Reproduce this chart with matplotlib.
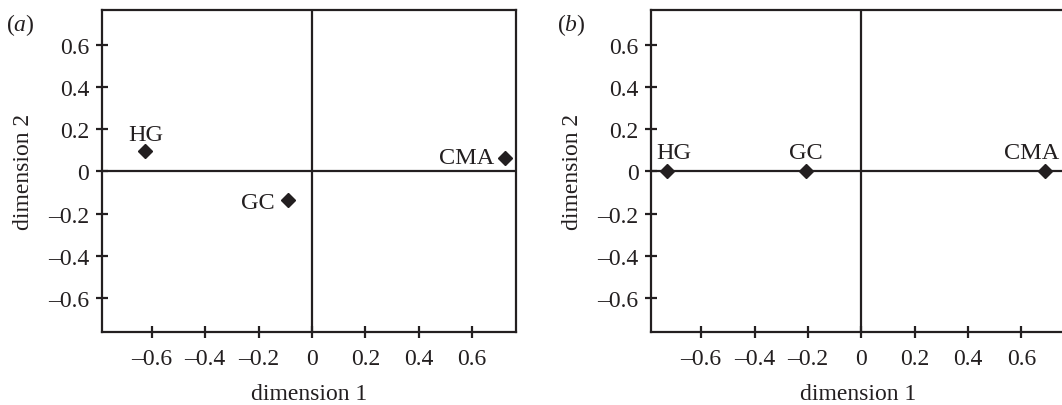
import matplotlib
matplotlib.use('Agg')
import matplotlib.pyplot as plt

plt.rcParams['font.family'] = ['Liberation Serif', 'DejaVu Serif']
plt.rcParams['mathtext.fontset'] = 'custom'
plt.rcParams['mathtext.it'] = 'Liberation Serif:italic'
plt.rcParams['mathtext.rm'] = 'Liberation Serif'

INK = '#231f20'

# correspondence analysis coordinates
groups = ['HG', 'GC', 'CMA']
dim1_a = [-0.624, -0.089, 0.724]
dim2_a = [0.097, -0.135, 0.064]
dim1_b = [-0.729, -0.207, 0.687]
dim2_b = [0.0, 0.0, 0.0]

tick_values = [-0.6, -0.4, -0.2, 0, 0.2, 0.4, 0.6]
tick_labels = ['\u20130.6', '\u20130.4', '\u20130.2', '0', '0.2', '0.4', '0.6']

# label offsets (points) for each panel: (dx, dy, ha, va)
offsets_a = [(0, 8, 'center', 'baseline'), (-10, 0, 'right', 'center_baseline'),
             (-8, 2, 'right', 'center_baseline')]
offsets_b = [(5, 9.5, 'center', 'baseline'), (0, 9.5, 'center', 'baseline'),
             (-9, 9.5, 'center', 'baseline')]


def draw_panel(ax, xs, ys, offsets):
    ax.axhline(0, color=INK, lw=1.6, zorder=1)
    ax.axvline(0, color=INK, lw=1.6, zorder=1)
    ax.plot(xs, ys, linestyle='none', marker='D', ms=7.5, color=INK, zorder=3)
    for name, x, y, (dx, dy, ha, va) in zip(groups, xs, ys, offsets):
        ax.annotate(name, (x, y), xytext=(dx, dy), textcoords='offset points',
                    ha=ha, va=va, fontsize=17.5, color=INK)
    ax.set_xlim(-0.788, 0.763)
    ax.set_ylim(-0.762, 0.764)
    ax.set_xticks(tick_values)
    ax.set_xticklabels(tick_labels)
    ax.set_yticks(tick_values)
    ax.set_yticklabels(tick_labels)
    ax.tick_params(direction='inout', length=9, width=1.6, colors=INK,
                   labelsize=17, pad=4.5)
    ax.tick_params(axis='x', pad=7)
    for sp in ax.spines.values():
        sp.set_linewidth(1.6)
        sp.set_color(INK)
    ax.set_xlabel('dimension 1', fontsize=17, color=INK, labelpad=10)
    ax.set_ylabel('dimension 2', fontsize=17, color=INK, labelpad=10)


fig = plt.figure(figsize=(10.62, 4.06), dpi=100)
ax_a = fig.add_axes([101.7 / 1062, 1 - 333.3 / 406, 413.9 / 1062, 322.3 / 406])
ax_b = fig.add_axes([651 / 1062, 1 - 333.3 / 406, 413.9 / 1062, 322.3 / 406])

draw_panel(ax_a, dim1_a, dim2_a, offsets_a)
draw_panel(ax_b, dim1_b, dim2_b, offsets_b)

fig.text(6 / 1062, 1 - 31 / 406, r'($\mathit{a}$)', fontsize=17, color=INK)
fig.text(557 / 1062, 1 - 31 / 406, r'($\mathit{b}$)', fontsize=17, color=INK)

fig.savefig('out.png', dpi=100)
